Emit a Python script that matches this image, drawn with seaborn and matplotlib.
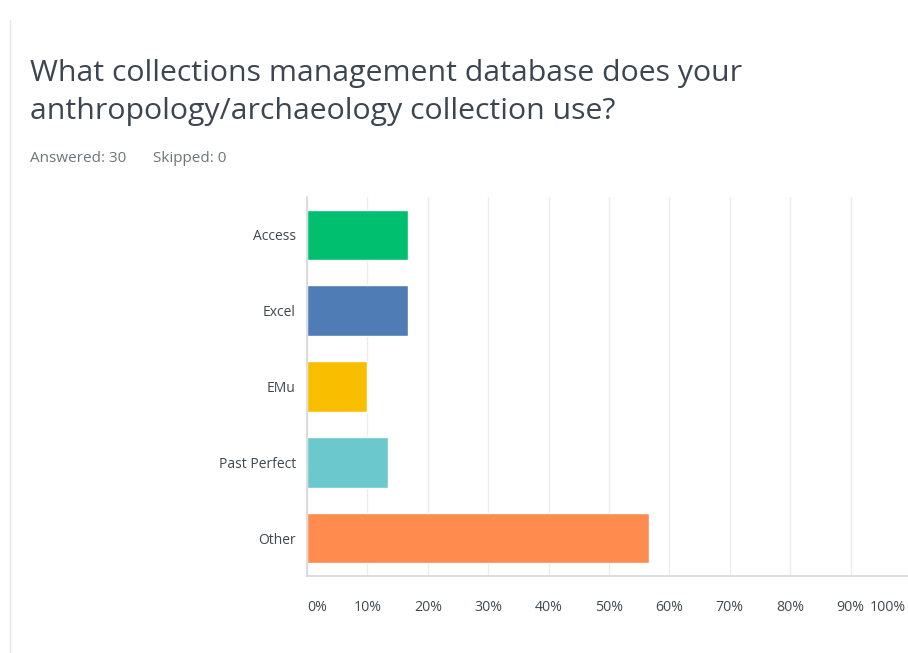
import pandas as pd
import matplotlib.pyplot as plt
import seaborn as sns
from matplotlib.lines import Line2D
from matplotlib.transforms import ScaledTranslation

# Data (survey: Answered 30, Skipped 0)
answers = ["Access", "Excel", "EMu", "Past Perfect", "Other"]
percents = [16.67, 16.67, 10.0, 13.33, 56.67]
bar_colors = ["#00BF6F", "#507CB6", "#F9BE00", "#6BC8CD", "#FF8B4F"]
tick_values = [0, 10, 20, 30, 40, 50, 60, 70, 80, 90, 100]
tick_labels = [f"{v}%" for v in tick_values]
title_lines = ["What collections management database does your",
               "anthropology/archaeology collection use?"]
answered_text = "Answered: 30"
skipped_text = "Skipped: 0"

# Setup
sns.set_theme(style="white")
plt.rcParams["font.family"] = ["Open Sans", "DejaVu Sans"]

W, H = 908, 653
fig = plt.figure(figsize=(W / 100, H / 100), dpi=100)
ax = fig.add_axes([307 / W, 1 - 576 / H, (911 - 307) / W, (576 - 197) / H])

df = pd.DataFrame({"answer": answers, "percent": percents})
sns.barplot(data=df, x="percent", y="answer", hue="answer", palette=bar_colors,
            legend=False, width=0.67, saturation=1, ax=ax)

ax.set_xlim(0, 100)
ax.set_ylim(4.5, -0.5)
ax.set_xlabel("")
ax.set_ylabel("")
ax.set_xticks(tick_values)
ax.set_xticklabels(tick_labels)
ax.set_axisbelow(True)
ax.xaxis.grid(True, color="#ececec", linewidth=1)
ax.yaxis.grid(False)
for side in ["top", "right"]:
    ax.spines[side].set_visible(False)
for side in ["left", "bottom"]:
    ax.spines[side].set_color("#d5d7d8")
    ax.spines[side].set_linewidth(1.2)
ax.tick_params(axis="x", length=0, pad=17, labelsize=10.2, labelcolor="#3f4850")
ax.tick_params(axis="y", length=0, pad=8, labelsize=10, labelcolor="#3f4850")
xlabels = ax.get_xticklabels()
xlabels[0].set_ha("left")
xlabels[-1].set_ha("right")
# keep the 100% label inside the picture
xlabels[-1].set_transform(xlabels[-1].get_transform()
                          + ScaledTranslation(-5 / 100, 0, fig.dpi_scale_trans))

# Titles
fig.text(30 / W, 1 - 81 / H, title_lines[0], fontsize=21.8, color="#3d4650",
         va="baseline", ha="left")
fig.text(30 / W, 1 - 119 / H, title_lines[1], fontsize=21.8, color="#3d4650",
         va="baseline", ha="left")
fig.text(30 / W, 1 - 162 / H, answered_text, fontsize=11, color="#6b7479",
         va="baseline", ha="left")
fig.text(153 / W, 1 - 162 / H, skipped_text, fontsize=11, color="#6b7479",
         va="baseline", ha="left")

# page border on the left
fig.add_artist(Line2D([10 / W, 10 / W], [0, 1 - 20 / H], transform=fig.transFigure,
                      color="#e6e6e6", linewidth=1))

plt.savefig("out.png", dpi=100)
plt.close()
